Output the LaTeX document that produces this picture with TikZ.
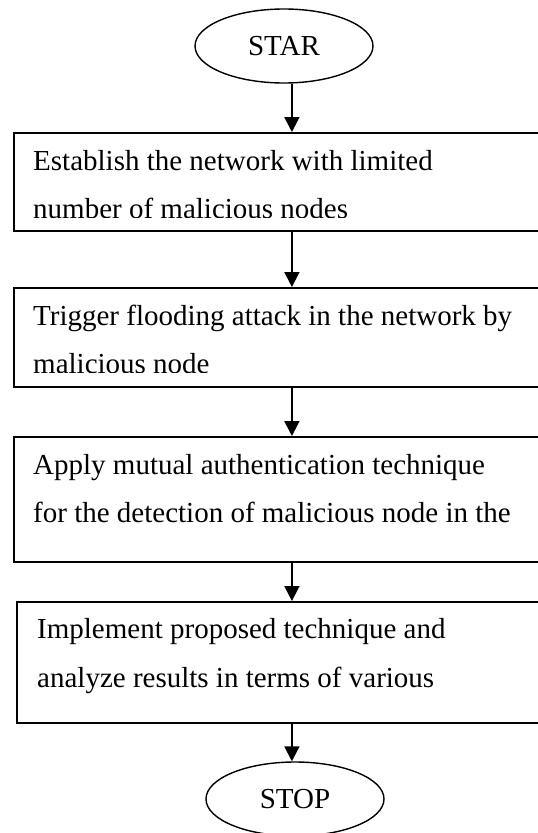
\documentclass[tikz,border=0pt]{standalone}
\usepackage{fontspec}
\setmainfont{Liberation Serif}
\usetikzlibrary{shapes.geometric,arrows.meta,calc}

\begin{document}
\begin{tikzpicture}[x=1pt,y=-1pt,
  stepbox/.style={draw,line width=1.8pt,rectangle,inner sep=0pt,anchor=north west},
  terminal/.style={draw,line width=1.4pt,ellipse,inner sep=0pt,
    minimum width=178pt,minimum height=74pt,font=\fontsize{29}{34}\selectfont},
  line/.style={anchor=base west,inner sep=0pt,font=\fontsize{29}{34}\selectfont},
  arr/.style={line width=1.8pt,-{Triangle[width=15pt,length=15pt]}}]
\useasboundingbox (0,0) rectangle (538,833);
\clip (0,0) rectangle (538,833);

% terminals
\node[terminal] (star) at (284,46) {STAR};
\node[terminal] (stop) at (295,799) {STOP};

% process boxes
\node[stepbox,minimum width=556pt,minimum height=98pt]  (b1) at (13,132) {};
\node[stepbox,minimum width=556pt,minimum height=99pt]  (b2) at (13,287) {};
\node[stepbox,minimum width=556pt,minimum height=125pt] (b3) at (13,436) {};
\node[stepbox,minimum width=550pt,minimum height=121pt] (b4) at (16,601) {};

% box texts (last lines cut off by the text frame)
\begin{scope}
  \clip (13,132) rectangle (569,217);
  \node[line] (t1a) at (33,170) {Establish the network with limited};
  \node[line] (t1b) at (33,218) {number of malicious nodes};
\end{scope}
\begin{scope}
  \clip (13,287) rectangle (569,372);
  \node[line] (t2a) at (33,325) {Trigger flooding attack in the network by};
  \node[line] (t2b) at (33,373) {malicious node};
\end{scope}
\node[line] (t3a) at (33,474) {Apply mutual authentication technique};
\node[line] (t3b) at (33,522) {for the detection of malicious node in the};
\node[line] (t4a) at (37,638) {Implement proposed technique and};
\node[line] (t4b) at (37,687) {analyze results in terms of various};

% connectors
\draw[arr] (star.south -| b1.north) -- (b1.north);
\draw[arr] (b1.south) -- (b2.north);
\draw[arr] (b2.south) -- (b3.north);
\draw[arr] (b3.south) -- (b3.south |- b4.north);
\draw[arr] (b4.south) -- (b4.south |- stop.north);
\end{tikzpicture}
\end{document}
